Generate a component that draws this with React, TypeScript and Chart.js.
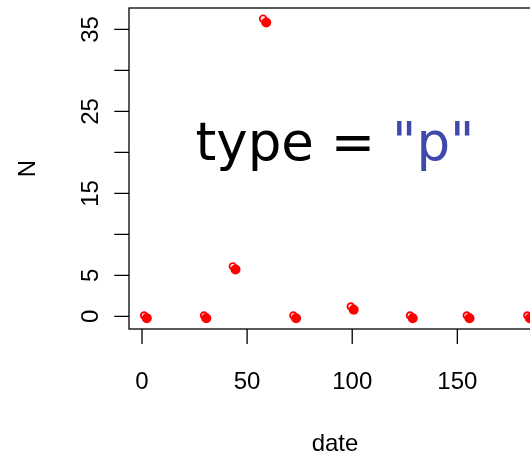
import { useEffect, useRef } from 'react';
import { Chart, registerables } from 'chart.js';

Chart.register(...registerables);

// Open-circle points (upper-left of each cluster)
const datesOpen = [1, 29.5, 43.2, 57.6, 72, 99.3, 127.5, 154.5, 183.3];
const nOpen = [0.1, 0.1, 6.1, 36.3, 0.1, 1.2, 0.1, 0.1, 0.1];
// Overlapping points that form the filled blob (lower-right of each cluster)
const datesFill = [2.3, 30.6, 44.5, 59.1, 73.3, 100.7, 128.8, 155.8, 184.5];
const nFill = [-0.22, -0.22, 5.72, 35.85, -0.22, 0.8, -0.22, -0.22, -0.22];

const xTicks = [0, 50, 100, 150];
const xTickLabels = ['0', '50', '100', '150'];
const yTicks = [0, 5, 10, 15, 20, 25, 30, 35];
const yTickLabels = ['0', '5', '', '15', '', '25', '', '35'];

const xMin = -6.18;
const xMax = 189.8;
const yMin = -1.54;
const yMax = 37.61;

export default function App() {
  const ref = useRef<HTMLCanvasElement>(null);

  useEffect(() => {
    if (!ref.current) return;
    const axesPlugin = {
      id: 'rAxes',
      afterDraw(chart: any) {
        const ctx = chart.ctx as CanvasRenderingContext2D;
        const { left, top, right, bottom } = chart.chartArea;
        const xs = chart.scales.x;
        const ys = chart.scales.y;
        ctx.save();
        ctx.strokeStyle = '#000';
        ctx.lineWidth = 1.3;
        ctx.strokeRect(left, top, right - left, bottom - top);
        ctx.beginPath();
        xTicks.forEach((v) => {
          const px = xs.getPixelForValue(v);
          ctx.moveTo(px, bottom);
          ctx.lineTo(px, bottom + 15);
        });
        yTicks.forEach((v) => {
          const py = ys.getPixelForValue(v);
          ctx.moveTo(left, py);
          ctx.lineTo(left - 14.7, py);
        });
        ctx.stroke();

        ctx.fillStyle = '#000';
        ctx.font = '24px "Liberation Sans", Arial, sans-serif';
        ctx.textAlign = 'center';
        ctx.textBaseline = 'alphabetic';
        xTicks.forEach((v, i) => {
          ctx.fillText(xTickLabels[i], xs.getPixelForValue(v), bottom + 60);
        });
        yTicks.forEach((v, i) => {
          if (!yTickLabels[i]) return;
          ctx.save();
          ctx.translate(left - 30.7, ys.getPixelForValue(v));
          ctx.rotate(-Math.PI / 2);
          ctx.fillText(yTickLabels[i], 0, 0);
          ctx.restore();
        });
        ctx.fillText('date', (left + right) / 2, bottom + 122);
        ctx.save();
        ctx.translate(left - 94.3, (top + bottom) / 2);
        ctx.rotate(-Math.PI / 2);
        ctx.fillText('N', 0, 0);
        ctx.restore();

        // big annotation text
        ctx.font = '53px "DejaVu Sans", sans-serif';
        ctx.textAlign = 'left';
        const t1 = 'type = ';
        const t2 = '"p"';
        const w1 = ctx.measureText(t1).width;
        const w2 = ctx.measureText(t2).width;
        const x0 = (left + right) / 2 - (w1 + w2) / 2;
        const baseY = 160;
        ctx.fillStyle = '#000';
        ctx.fillText(t1, x0, baseY);
        ctx.fillStyle = '#3F48AB';
        ctx.fillText(t2, x0 + w1, baseY);
        ctx.restore();
      },
    };

    const chart = new Chart(ref.current, {
      type: 'scatter',
      data: {
        datasets: [
          {
            data: datesOpen.map((d, i) => ({ x: d, y: nOpen[i] })),
            pointStyle: 'circle',
            pointRadius: 3.3,
            pointBorderWidth: 1.8,
            pointBorderColor: '#FF0000',
            pointBackgroundColor: 'rgba(0,0,0,0)',
            showLine: false,
          },
          {
            data: datesFill.map((d, i) => ({ x: d, y: nFill[i] })),
            pointStyle: 'circle',
            pointRadius: 5,
            pointBorderWidth: 0,
            pointBorderColor: '#FF0000',
            pointBackgroundColor: '#FF0000',
            showLine: false,
          },
        ],
      },
      options: {
        animation: false,
        responsive: false,
        devicePixelRatio: 1,
        layout: { padding: { left: 129, top: 8, right: 59, bottom: 125 } },
        plugins: {
          legend: { display: false },
          tooltip: { enabled: false },
        },
        events: [],
        scales: {
          x: { type: 'linear', min: xMin, max: xMax, display: false },
          y: { type: 'linear', min: yMin, max: yMax, display: false },
        },
      },
      plugins: [axesPlugin],
    });
    return () => chart.destroy();
  }, []);

  return (
    <div
      style={{
        position: 'fixed',
        left: 0,
        top: 0,
        width: 530,
        height: 454,
        overflow: 'hidden',
        background: '#fff',
      }}
    >
      <canvas ref={ref} width={600} height={454} style={{ display: 'block' }} />
    </div>
  );
}
